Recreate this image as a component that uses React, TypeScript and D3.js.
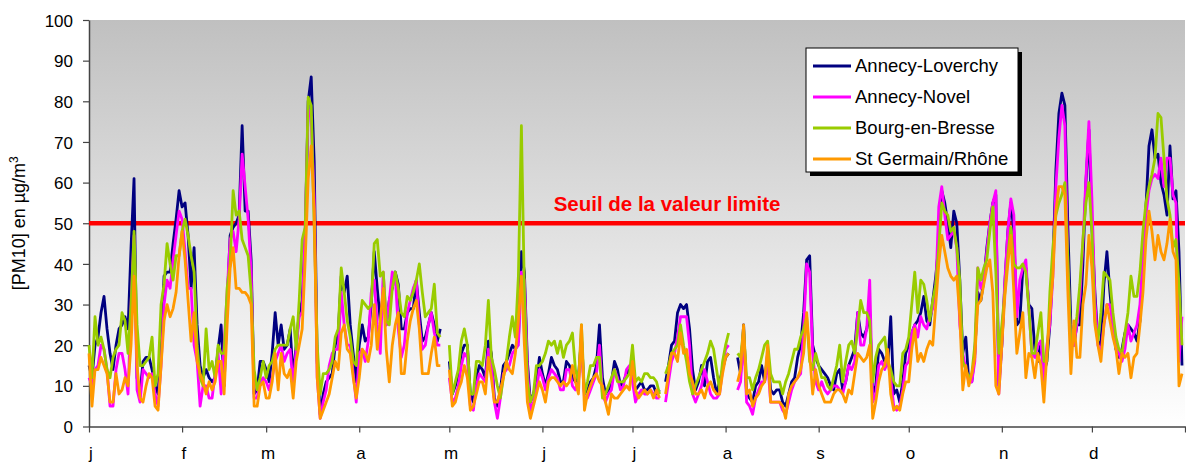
import React, { useEffect, useRef } from "react";
import * as d3 from "d3";

const monthLabels = ["j", "f", "m", "a", "m", "j", "j", "a", "s", "o", "n", "d"];
const monthStarts = [0, 31, 59, 90, 120, 151, 181, 212, 243, 273, 304, 334];
const dayCount = 365;
const yTicks = [0, 10, 20, 30, 40, 50, 60, 70, 80, 90, 100];
const limitValue = 50;
const limitLabel = "Seuil de la valeur limite";
const yTitle = "[PM10] en µg/m";
const stations = ["Annecy-Loverchy", "Annecy-Novel", "Bourg-en-Bresse", "St Germain/Rhône"];
const colors = ["#000080", "#ff00ff", "#99cc00", "#ff9900"];

// daily PM10, one value per day (null = no measure)
const annecyLoverchy = [
    15, 12, 20, 22, 28, 32, 24, 18, 14, 20,
    24, 25, 27, 24, 44, 61, 12, 8, 16, 17,
    17, 14, 10, 8, 20, 37, 38, 38, 45, 51,
    58, 54, 55, 47, 34, 44, 25, 15, 12, 14,
    12, 11, 12, 19, 25, 10, 30, 47, 49, 50,
    52, 74, 53, 53, 41, 8, 9, 16, 16, 14,
    11, 18, 28, 20, 25, 19, 20, 24, 12, 20,
    28, 31, 47, 80, 86, 65, 16, 3, 8, 11,
    12, 13, 20, 23, 37, 33, 37, 25, 18, 11,
    20, 25, 21, 22, 30, 43, 34, 26, 33, 25,
    31, 34, 38, 35, 24, 24, 28, 29, 29, 36,
    28, 21, 22, 25, 28, 25, 21, 24, null, null,
    16, 8, 10, 13, 18, 20, 20, 8, 6, 12,
    15, 14, 12, 21, 18, 7, 5, 9, 15, 16,
    18, 20, 19, 21, 43, 38, 16, 6, 8, 11,
    17, 13, 10, 13, 17, 15, 14, 11, 11, 16,
    15, 12, 11, 12, 22, 8, 9, 11, 12, 15,
    25, 12, 8, 9, 11, 16, 14, 10, 11, 13,
    14, 12, 9, 10, 11, 9, 9, 10, 10, 8,
    9, null, 11, 15, 20, 21, 28, 30, 29, 30,
    24, 14, 9, 11, 15, 10, 16, 17, 12, 8,
    11, 14, 17, 18, null, null, 17, 13, 25, 8,
    7, 6, 10, 11, 15, 11, 18, 9, 8, 9,
    9, 6, 5, 8, 11, 12, 17, 20, 28, 41,
    42, 20, 17, 15, 14, 13, 12, 10, 9, 13,
    14, 9, 11, 15, 17, 19, 28, 23, 22, 24,
    28, 8, 10, 19, 18, 16, 15, 27, 8, 9,
    6, 11, 18, 20, 23, 25, 26, 28, 32, 26,
    25, 31, 37, 45, 58, 55, 50, 44, 53, 50,
    36, 18, 22, 11, 11, 18, 33, 31, 36, 44,
    50, 55, 57, 10, 20, 35, 48, 55, 48, 25,
    26, 39, 39, 30, 29, 19, 16, 21, 13, 16,
    25, 40, 63, 77, 82, 79, 49, 25, 20, 25,
    25, 40, 60, 73, 49, 33, 21, 20, 35, 43,
    33, 25, 19, 17, 19, 23, 25, 24, 23, 21,
    26, 39, 54, 69, 73, 66, 67, 60, 57, 52,
    69, 56, 58, 43, 15,
];

const annecyNovel = [
    12, 10, 14, 15, 20, 19, 14, 5, 5, 14,
    18, 18, 14, 8, 30, 47, 9, 6, 14, 13,
    12, 13, 8, 5, 15, 30, 36, 34, 41, 47,
    53, 51, 43, 34, 34, 20, 16, 5, 10, 10,
    7, 7, 13, 18, 8, 20, 33, 46, 48, 43,
    51, 67, 59, 51, 38, 7, 7, 11, 12, 11,
    9, 12, 16, 18, 20, 16, 18, 19, 10, 19,
    27, 28, 49, 78, 76, 56, 12, 2, 6, 9,
    15, 18, 19, 19, 33, 25, 20, 20, 13, 6,
    18, 19, 16, 21, 33, 36, 25, 18, 38, 25,
    31, 38, 37, 24, 17, 20, 28, 31, 34, 36,
    25, 19, 20, 25, 28, 23, 20, 20, null, null,
    12, 6, 7, 10, 15, 18, 17, 5, 4, 10,
    13, 12, 11, 19, 16, 6, 2, 7, 13, 14,
    15, 18, 19, 20, 38, 36, 14, 4, 6, 9,
    14, 12, 9, 12, 14, 13, 12, 9, 9, 14,
    14, 10, 9, 11, 20, 7, 7, 9, 11, 13,
    20, 8, 6, 8, 9, 14, 12, 9, 10, 14,
    15, 11, 6, 8, 9, 8, 8, 9, 8, 7,
    7, null, 6, 11, 16, 18, 22, 27, 27, 27,
    20, 8, 6, 8, 10, 14, 11, 8, 7, 7,
    8, 14, 19, 20, null, null, 9, 11, 22, 6,
    5, 3, 7, 9, 11, 11, 16, 6, 6, 6,
    6, 4, 3, 6, 9, 11, 12, 13, 24, 40,
    38, 18, 11, 9, 11, 9, 8, 9, 10, 10,
    9, 8, 11, 15, 14, 16, 28, 20, 20, 24,
    36, 6, 8, 15, 16, 14, 16, 12, 5, 4,
    5, 9, 15, 16, 23, 25, 22, 27, 25, 24,
    27, 29, 34, 54, 59, 52, 46, 47, 48, 44,
    25, 18, 14, 11, 11, 16, 39, 34, 36, 43,
    50, 55, 58, 8, 20, 36, 48, 56, 52, 27,
    36, 39, 41, 29, 18, 17, 20, 21, 11, 20,
    25, 37, 59, 71, 79, 74, 39, 20, 20, 25,
    32, 45, 61, 75, 56, 31, 20, 18, 25, 30,
    30, 25, 20, 18, 16, 19, 25, 21, 23, 25,
    30, 42, 52, 58, 61, 62, 61, 66, 59, 66,
    66, 57, 55, 16, 27,
];

const bourgEnBresse = [
    20, 12, 27, 20, 22, 19, 14, 12, 17, 19,
    20, 28, 26, 18, 30, 48, 25, 15, 15, 16,
    17, 22, 10, 13, 30, 35, 45, 40, 36, 42,
    42, 48, 51, 47, 42, 38, 20, 12, 10, 24,
    14, 16, 12, 20, 18, 18, 34, 40, 58, 52,
    53, 46, 44, 42, 33, 14, 9, 12, 16, 12,
    15, 16, 19, 20, 20, 20, 20, 24, 27, 19,
    31, 46, 49, 81, 79, 49, 20, 8, 13, 13,
    14, 16, 22, 24, 39, 33, 26, 22, 16, 15,
    25, 31, 30, 29, 30, 45, 46, 37, 38, 26,
    25, 34, 38, 34, 28, 27, 32, 31, 33, 36,
    40, 33, 27, 28, 29, 35, 23, 22, null, null,
    20, 8, 11, 14, 21, 24, 20, 8, 8, 16,
    16, 15, 20, 31, 17, 14, 10, 7, 12, 16,
    22, 27, 22, 37, 74, 33, 11, 6, 8, 15,
    15, 16, 18, 21, 20, 21, 18, 21, 17, 20,
    21, 23, 14, 11, 25, 8, 11, 15, 15, 17,
    17, 7, 8, 10, 12, 14, 11, 11, 11, 12,
    13, 20, 11, 12, 11, 13, 13, 12, 12, 11,
    8, null, 13, 15, 18, 19, 20, 25, 20, 16,
    11, 8, 10, 12, 14, 16, 18, 21, 19, 14,
    9, 16, 20, 23, null, null, 18, 17, 24, 12,
    12, 9, 12, 14, 17, 20, 21, 13, 11, 11,
    11, 8, 11, 13, 16, 19, 19, 22, 24, 27,
    16, 14, 18, 15, 12, 12, 10, 9, 12, 15,
    20, 11, 16, 20, 21, 18, 24, 31, 28, 28,
    26, 11, 17, 20, 21, 22, 16, 14, 11, 10,
    10, 18, 19, 22, 30, 38, 28, 36, 35, 31,
    26, 31, 35, 44, 55, 53, 52, 48, 49, 44,
    36, 16, 14, 12, 13, 20, 39, 36, 39, 41,
    48, 54, 38, 18, 25, 33, 42, 49, 40, 39,
    39, 40, 38, 29, 18, 18, 23, 28, 16, 16,
    33, 44, 52, 55, 57, 60, 41, 20, 22, 27,
    35, 46, 55, 60, 48, 26, 21, 28, 38, 37,
    36, 28, 22, 19, 18, 23, 28, 37, 32, 32,
    38, 48, 55, 59, 62, 66, 77, 76, 66, 56,
    52, 44, 46, 35, 20,
];

const stGermainRhone = [
    18, 5, 14, 14, 17, 15, 13, 6, 6, 13,
    8, 9, 12, 10, 20, 37, 15, 7, 6, 10,
    13, 12, 5, 4, 15, 26, 30, 27, 29, 33,
    42, 48, 41, 31, 21, 28, 16, 13, 11, 8,
    11, 9, 11, 16, 16, 8, 25, 39, 44, 34,
    34, 33, 33, 32, 30, 5, 5, 10, 11, 7,
    7, 11, 18, 9, 18, 13, 12, 14, 7, 16,
    20, 24, 41, 61, 69, 53, 12, 2, 4, 6,
    8, 12, 16, 14, 23, 25, 19, 18, 12, 7,
    12, 19, 18, 16, 20, 30, 19, 26, 34, 19,
    11, 20, 25, 28, 13, 13, 21, 26, 29, 31,
    24, 13, 13, 13, 18, 22, 15, 15, null, null,
    14, 5, 6, 9, 11, 15, 12, 4, 5, 8,
    11, 11, 8, 17, 12, 6, 6, 9, 12, 16,
    14, 13, 18, 26, 37, 20, 6, 2, 5, 8,
    11, 9, 6, 11, 12, 12, 11, 10, 11, 10,
    11, 15, 11, 8, 25, 4, 8, 10, 12, 13,
    11, 10, 6, 3, 8, 7, 7, 8, 9, 10,
    9, 16, 9, 7, 8, 9, 8, 9, 7, 9,
    7, null, 8, 13, 18, 18, 16, 23, 18, 19,
    13, 11, 8, 8, 9, 7, 10, 11, 9, 8,
    8, 13, 17, 18, null, null, 11, 14, 25, 8,
    9, 5, 7, 8, 10, 11, 20, 6, 6, 6,
    6, 5, 2, 8, 10, 11, 12, 14, 18, 28,
    18, 8, 14, 10, 8, 6, 6, 6, 8, 9,
    9, 8, 6, 9, 8, 13, 18, 17, 16, 17,
    20, 2, 6, 11, 14, 15, 19, 8, 4, 5,
    4, 8, 11, 11, 19, 24, 16, 18, 16, 19,
    21, 20, 30, 40, 47, 43, 39, 37, 36, 37,
    27, 9, 15, 10, 13, 17, 30, 31, 35, 39,
    41, 33, 10, 8, 20, 32, 40, 47, 33, 18,
    23, 28, 12, 18, 17, 12, 18, 15, 6, 18,
    28, 37, 53, 59, 59, 57, 33, 13, 26, 17,
    17, 30, 35, 47, 39, 25, 20, 16, 25, 30,
    26, 22, 19, 13, 18, 17, 18, 12, 17, 18,
    25, 33, 46, 53, 48, 41, 47, 43, 41, 45,
    51, 43, 41, 10, 13,
];

const series = [annecyLoverchy, annecyNovel, bourgEnBresse, stGermainRhone];

const W = 1186;
const H = 464;
const FONT = "'Liberation Sans', Arial, sans-serif";

function App() {
    const chartRef = useRef<SVGSVGElement>(null);

    useEffect(() => {
        const svg = d3.select(chartRef.current);
        svg.selectAll("*").remove();

        const left = 89;
        const right = 1185;
        const top = 20;
        const bottom = 426.5;

        const xScale = d3.scaleLinear().domain([0, dayCount]).range([left, right]);
        const yScale = d3.scaleLinear().domain([0, 100]).range([bottom, top]);

        const grad = svg
            .append("defs")
            .append("linearGradient")
            .attr("id", "plotBg")
            .attr("x1", 0)
            .attr("y1", 0)
            .attr("x2", 0)
            .attr("y2", 1);
        grad.append("stop").attr("offset", "0%").attr("stop-color", "#c0c0c0");
        grad.append("stop").attr("offset", "100%").attr("stop-color", "#ffffff");

        svg.append("rect")
            .attr("x", left)
            .attr("y", top)
            .attr("width", right - left)
            .attr("height", bottom - top)
            .attr("fill", "url(#plotBg)");

        // y axis
        const yAxis = d3.axisLeft(yScale).tickValues(yTicks).tickSize(6).tickSizeOuter(0);
        const gy = svg.append("g").attr("transform", `translate(${left}, 0)`).call(yAxis);
        gy.select(".domain").attr("stroke", "#444").attr("stroke-width", 1.5);
        gy.selectAll(".tick line").attr("stroke", "#444").attr("stroke-width", 1.2);
        gy.selectAll(".tick text")
            .attr("x", -16)
            .attr("dy", "0.36em")
            .attr("font-family", FONT)
            .attr("font-size", 17)
            .attr("fill", "#000");

        // x axis: month boundaries
        const xAxis = d3
            .axisBottom(xScale)
            .tickValues([...monthStarts, dayCount])
            .tickFormat(() => "")
            .tickSize(6)
            .tickSizeOuter(0);
        const gx = svg.append("g").attr("transform", `translate(0, ${bottom})`).call(xAxis);
        gx.select(".domain").attr("stroke", "#444").attr("stroke-width", 1.5);
        gx.selectAll(".tick line").attr("stroke", "#444").attr("stroke-width", 1.2);

        svg.append("g")
            .selectAll("text")
            .data(monthLabels)
            .join("text")
            .attr("x", (d, i) => xScale(monthStarts[i] + 0.6))
            .attr("y", 459)
            .attr("text-anchor", "middle")
            .attr("font-family", FONT)
            .attr("font-size", 17)
            .text(d => d);

        const yLabel = svg
            .append("text")
            .attr("transform", `translate(25, ${yScale(50)}) rotate(-90)`)
            .attr("text-anchor", "middle")
            .attr("font-family", FONT)
            .attr("font-size", 18)
            .text(yTitle);
        yLabel.append("tspan").attr("font-size", 12).attr("dy", -7).text("3");

        // limit line
        svg.append("line")
            .attr("x1", left)
            .attr("x2", right)
            .attr("y1", yScale(limitValue))
            .attr("y2", yScale(limitValue))
            .attr("stroke", "#ff0000")
            .attr("stroke-width", 4.5);

        svg.append("text")
            .attr("x", 667)
            .attr("y", yScale(limitValue) - 12.5)
            .attr("text-anchor", "middle")
            .attr("font-family", FONT)
            .attr("font-weight", "bold")
            .attr("font-size", 20.5)
            .attr("fill", "#ff0000")
            .text(limitLabel);

        const generateLine = d3
            .line<number | null>()
            .defined(d => d != null)
            .x((d, i) => xScale(i))
            .y(d => yScale(d as number));

        svg.append("g")
            .selectAll("path")
            .data(series)
            .join("path")
            .attr("d", d => generateLine(d))
            .attr("fill", "none")
            .attr("stroke", (d, i) => colors[i])
            .attr("stroke-width", 2.8)
            .attr("stroke-linejoin", "round");

        // legend
        const lx = 806;
        const ly = 48;
        const lw = 212;
        const lh = 124;
        svg.append("rect").attr("x", lx + 4).attr("y", ly + 4).attr("width", lw).attr("height", lh).attr("fill", "#000");
        svg.append("rect")
            .attr("x", lx)
            .attr("y", ly)
            .attr("width", lw)
            .attr("height", lh)
            .attr("fill", "#fff")
            .attr("stroke", "#000")
            .attr("stroke-width", 1);

        const items = svg
            .append("g")
            .selectAll("g")
            .data(stations)
            .join("g")
            .attr("transform", (d, i) => `translate(${lx}, ${ly + 18 + i * 31})`);
        items.append("line")
            .attr("x1", 7)
            .attr("x2", 45)
            .attr("stroke", (d, i) => colors[i])
            .attr("stroke-width", 3);
        items.append("text")
            .attr("x", 49)
            .attr("y", 4)
            .attr("dy", "0.1em")
            .attr("font-family", FONT)
            .attr("font-size", 18.5)
            .text(d => d);
    }, []);

    return <svg ref={chartRef} width={W} height={H} style={{ position: "absolute", left: 0, top: 0, background: "#fff" }} />;
}

export default App;
